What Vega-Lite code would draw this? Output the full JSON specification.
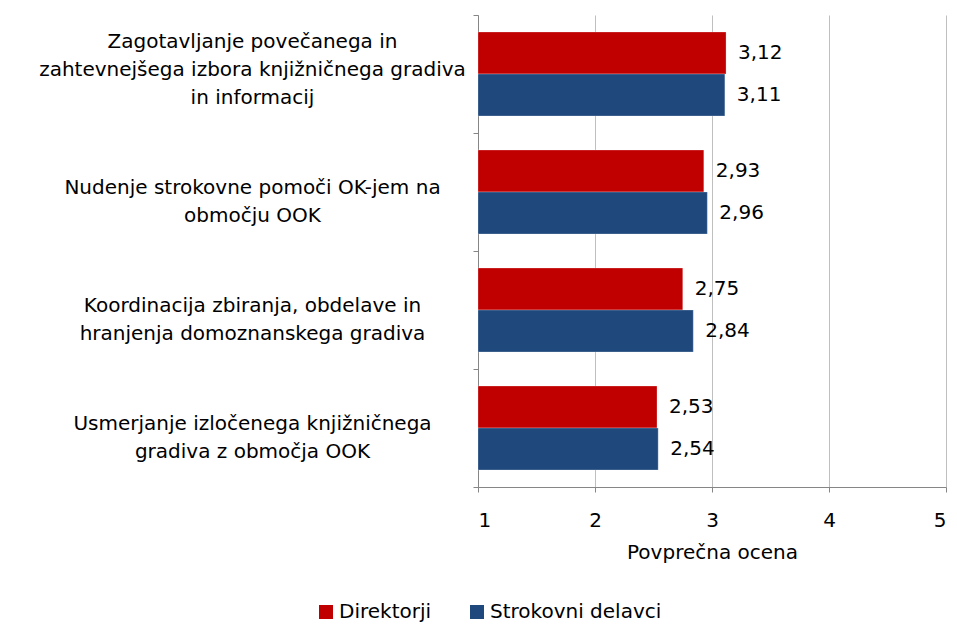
{
  "$schema": "https://vega.github.io/schema/vega-lite/v6.json",
  "width": 468,
  "height": 472,
  "autosize": "none",
  "padding": {"left": 478, "top": 15, "right": 11, "bottom": 139},
  "background": "white",
  "config": {
    "view": {"stroke": null},
    "font": "DejaVu Sans",
    "locale": {"number": {"decimal": ",", "thousands": ".", "grouping": [3], "currency": ["", " €"]}}
  },
  "data": {
    "values": [
      {"cat": "Zagotavljanje povečanega in|zahtevnejšega izbora knjižničnega gradiva|in informacij", "series": "Direktorji", "value": 3.12},
      {"cat": "Zagotavljanje povečanega in|zahtevnejšega izbora knjižničnega gradiva|in informacij", "series": "Strokovni delavci", "value": 3.11},
      {"cat": "Nudenje strokovne pomoči OK-jem na|območju OOK", "series": "Direktorji", "value": 2.93},
      {"cat": "Nudenje strokovne pomoči OK-jem na|območju OOK", "series": "Strokovni delavci", "value": 2.96},
      {"cat": "Koordinacija zbiranja, obdelave in|hranjenja domoznanskega gradiva", "series": "Direktorji", "value": 2.75},
      {"cat": "Koordinacija zbiranja, obdelave in|hranjenja domoznanskega gradiva", "series": "Strokovni delavci", "value": 2.84},
      {"cat": "Usmerjanje izločenega knjižničnega|gradiva z območja OOK", "series": "Direktorji", "value": 2.53},
      {"cat": "Usmerjanje izločenega knjižničnega|gradiva z območja OOK", "series": "Strokovni delavci", "value": 2.54}
    ]
  },
  "encoding": {
    "y": {
      "field": "cat",
      "type": "nominal",
      "sort": null,
      "scale": {"paddingInner": 0, "paddingOuter": 0},
      "axis": {
        "title": null,
        "labelExpr": "length(split(datum.label, '|')) == 2 ? ['', split(datum.label, '|')[0], split(datum.label, '|')[1]] : split(datum.label, '|')",
        "labelAlign": "center",
        "labelBaseline": "middle",
        "labelPadding": 221,
        "labelFontSize": 20,
        "labelColor": "#000000",
        "labelLineHeight": 28,
        "labelLimit": 500,
        "labelOffset": -33,
        "tickBand": "extent",
        "ticks": true,
        "tickSize": 5,
        "tickColor": "#868686",
        "domainColor": "#868686",
        "grid": false
      }
    },
    "yOffset": {"field": "series", "type": "nominal", "sort": ["Direktorji", "Strokovni delavci"], "scale": {"paddingInner": 0, "paddingOuter": 0.405}},
    "x": {
      "field": "value",
      "type": "quantitative",
      "scale": {"domain": [1, 5], "zero": false, "nice": false},
      "axis": {
        "title": "Povprečna ocena",
        "titleFontSize": 20,
        "titleFontWeight": "normal",
        "titleColor": "#000000",
        "titlePadding": 12,
        "values": [1, 2, 3, 4, 5],
        "format": "d",
        "labelFontSize": 20,
        "labelColor": "#000000",
        "labelPadding": 18,
        "tickSize": 5,
        "tickColor": "#868686",
        "domainColor": "#868686",
        "gridColor": "#BFBFBF",
        "grid": true
      }
    }
  },
  "layer": [
    {
      "mark": {"type": "bar", "stroke": "#FFFFFF", "strokeOpacity": 0.5, "strokeWidth": 0.5},
      "encoding": {
        "x2": {"datum": 1},
        "color": {
          "field": "series",
          "type": "nominal",
          "sort": ["Direktorji", "Strokovni delavci"],
          "scale": {"domain": ["Direktorji", "Strokovni delavci"], "range": ["#C00000", "#1F497D"]},
          "legend": {
            "title": null,
            "orient": "none",
            "legendX": -162,
            "legendY": 587,
            "direction": "horizontal",
            "symbolType": "square",
            "symbolSize": 196,
            "symbolOpacity": 1,
            "symbolStrokeWidth": 0,
            "labelFontSize": 20,
            "labelColor": "#000000",
            "labelOffset": 3,
            "labelLimit": 400,
            "columnPadding": 35
          }
        }
      }
    },
    {
      "mark": {"type": "text", "align": "left", "baseline": "middle", "dx": 12, "fontSize": 20, "color": "#000000"},
      "encoding": {
        "text": {"field": "value", "type": "quantitative", "format": ".2f"}
      }
    }
  ]
}
